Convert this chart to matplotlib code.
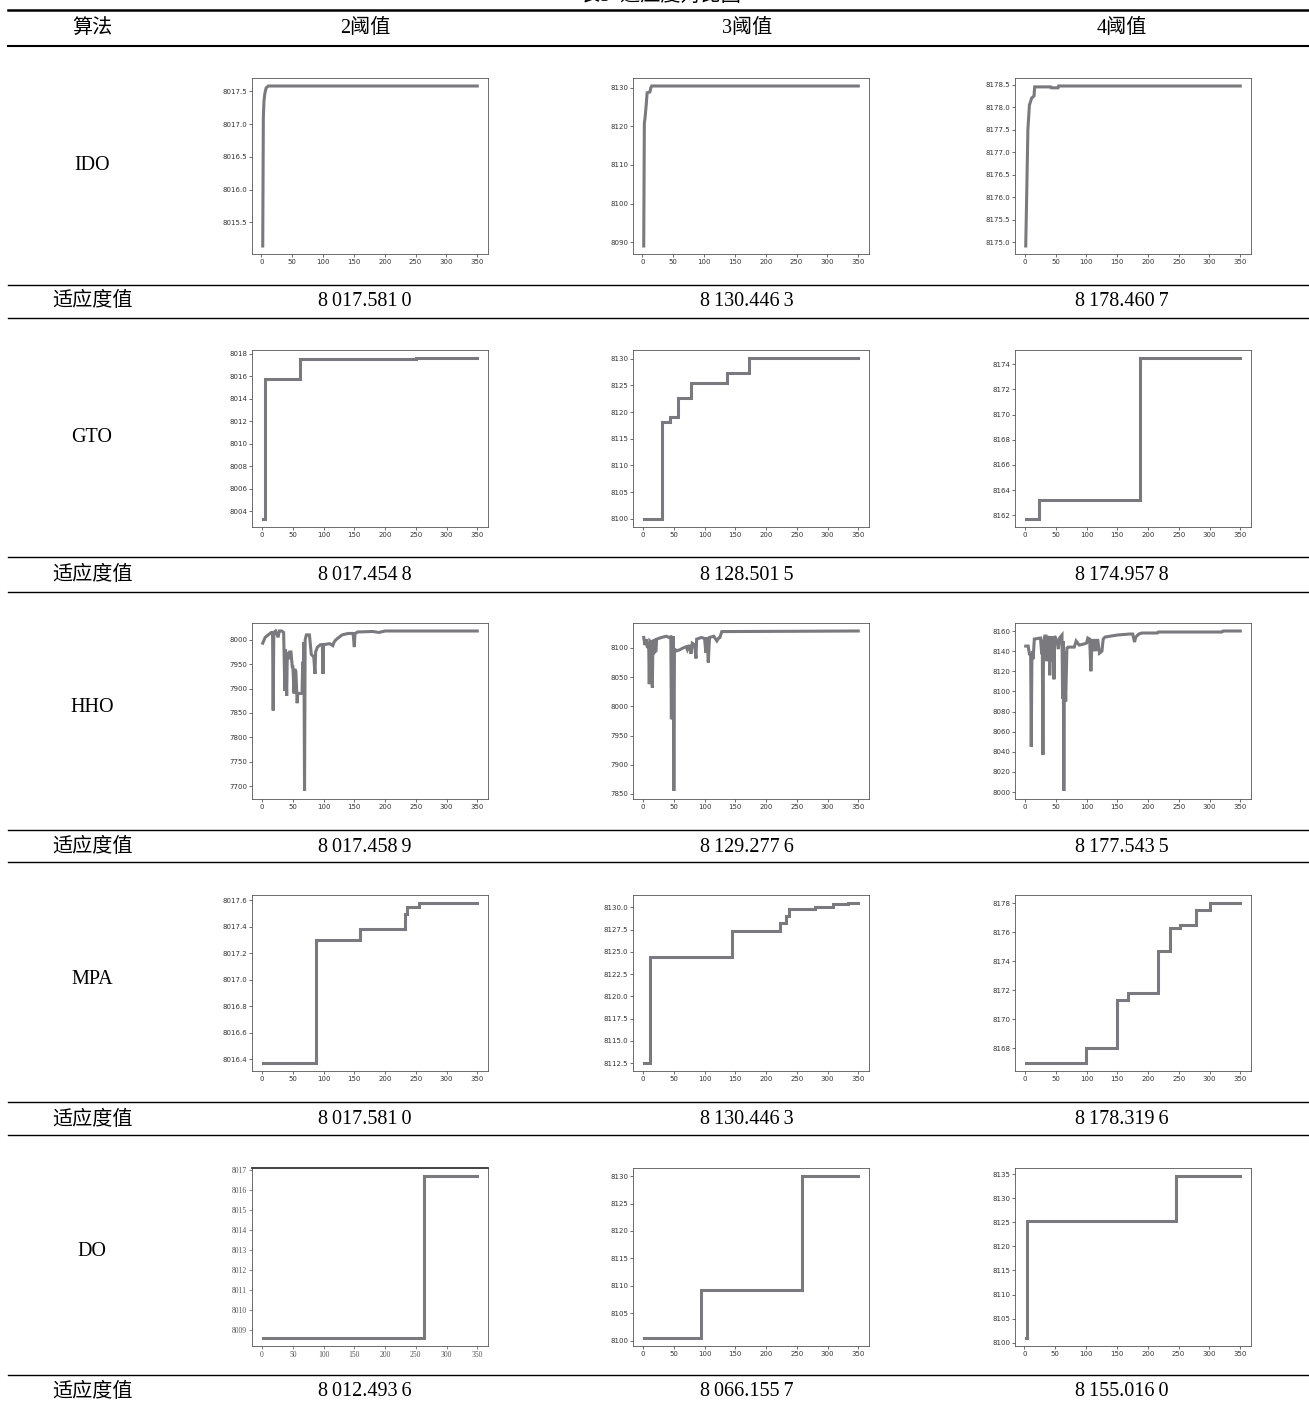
# 表5 适应度对比图 — 各算法在 2/3/4 阈值下的收敛曲线
import matplotlib
matplotlib.use("Agg")
import matplotlib.pyplot as plt
from matplotlib.lines import Line2D

W, H = 1309, 1405

algos = ["IDO", "GTO", "HHO", "MPA", "DO"]
heads = ["2阈值", "3阈值", "4阈值"]

# 适应度值（表格中的数字）
fit_vals = [
    [8017.5810, 8130.4463, 8178.4607],
    [8017.4548, 8128.5015, 8174.9578],
    [8017.4589, 8129.2776, 8177.5435],
    [8017.5810, 8130.4463, 8178.3196],
    [8012.4936, 8066.1557, 8155.0160],
]

# ---- IDO ----
ido2_x = [2, 3, 4, 5.5, 7.5, 11, 350]
ido2_y = [8015.14, 8017.10, 8017.35, 8017.47, 8017.55, 8017.58, 8017.58]
ido3_x = [2, 3, 4, 6, 7.5, 12, 13.5, 15, 350]
ido3_y = [8089.0, 8120.8, 8122.0, 8125.5, 8128.7, 8128.9, 8130.0, 8130.45, 8130.45]
ido4_x = [1.5, 3, 5, 7.5, 10, 11, 15, 16, 42, 43, 54, 55, 350]
ido4_y = [8174.92, 8176.0, 8177.5, 8178.05, 8178.15, 8178.2, 8178.25, 8178.45,
          8178.45, 8178.43, 8178.43, 8178.47, 8178.47]

# ---- GTO (阶梯) ----
gto2_x = [1, 4, 62, 250, 350]
gto2_y = [8003.3, 8015.75, 8017.5, 8017.6, 8017.6]
gto3_x = [1, 31, 44, 56, 78, 137, 172, 350]
gto3_y = [8100.0, 8118.2, 8119.0, 8122.6, 8125.4, 8127.3, 8130.1, 8130.1]
gto4_x = [1, 22, 187, 350]
gto4_y = [8161.7, 8163.2, 8174.5, 8174.5]

# ---- HHO ----
hho2_x = [1, 5, 10, 15, 17, 18, 19, 22, 26, 28, 32, 35, 37, 38, 40, 41, 43, 45,
          47, 49, 50, 52, 53, 55, 57, 58, 60, 65, 66, 67, 68, 69, 70, 72, 77, 80,
          84, 86, 87, 90, 95, 98, 99, 100, 110, 115, 117, 120, 125, 130, 140,
          148, 150, 151, 155, 180, 190, 200, 350]
hho2_y = [7993, 8005, 8010, 8015, 8015, 7855, 8015, 8018, 8005, 8018, 8018, 8015,
          7895, 7980, 7885, 7975, 7960, 7975, 7975, 7945, 7945, 7890, 7940, 7935,
          7870, 7890, 7890, 7890, 7955, 7890, 7995, 7690, 8000, 8010, 8010, 7970,
          7965, 7930, 7975, 7985, 7990, 7990, 7930, 7990, 7992, 7988, 7995, 8000,
          8005, 8010, 8013, 8013, 7985, 8012, 8016, 8017, 8015, 8018, 8018]
hho3_x = [1, 3, 5, 7, 9, 10, 11, 13, 15, 16, 18, 19, 21, 22, 30, 38, 42, 45, 46,
          47, 48, 49, 50, 51, 55, 60, 65, 70, 72, 75, 78, 80, 84, 86, 87, 95, 100,
          102, 104, 106, 108, 115, 120, 123, 125, 128, 350]
hho3_y = [8118, 8105, 8115, 8100, 8110, 8038, 8112, 8110, 8032, 8112, 8113, 8093,
          8095, 8115, 8118, 8120, 8118, 8119, 7978, 8119, 7978, 8120, 7855, 8098,
          8095, 8097, 8100, 8102, 8097, 8105, 8090, 8108, 8105, 8082, 8115, 8118,
          8116, 8092, 8118, 8075, 8118, 8120, 8112, 8117, 8118, 8128, 8129]
hho4_x = [1, 5, 7, 9, 10, 11, 12, 13, 15, 25, 27, 28, 29, 30, 32, 34, 35, 37, 39,
          40, 42, 44, 46, 47, 48, 52, 54, 56, 60, 61, 62, 63, 64, 66, 68, 70, 80,
          83, 88, 95, 100, 102, 105, 107, 109, 111, 113, 115, 118, 121, 125, 127,
          130, 140, 150, 170, 175, 178, 180, 185, 190, 215, 217, 320, 322, 350]
hho4_y = [8145, 8145, 8137, 8136, 8045, 8130, 8140, 8132, 8152, 8153, 8137, 8140,
          8037, 8150, 8155, 8155, 8130, 8150, 8155, 8116, 8155, 8130, 8155, 8112,
          8155, 8150, 8142, 8153, 8156, 8093, 8150, 8001, 8140, 8090, 8143, 8144,
          8144, 8150, 8146, 8147, 8148, 8153, 8152, 8120, 8152, 8140, 8152, 8140,
          8152, 8138, 8140, 8152, 8154, 8155, 8156, 8157, 8157, 8149, 8154, 8157,
          8158, 8158, 8159, 8159, 8160, 8160]

# ---- MPA (阶梯) ----
mpa2_x = [1, 88, 160, 233, 236, 256, 350]
mpa2_y = [8016.37, 8017.30, 8017.38, 8017.50, 8017.55, 8017.58, 8017.58]
mpa3_x = [1, 11, 144, 222, 233, 238, 279, 309, 333, 350]
mpa3_y = [8112.5, 8124.4, 8127.3, 8128.3, 8129.0, 8129.8, 8130.0, 8130.4, 8130.5, 8130.5]
mpa4_x = [1, 99, 150, 168, 216, 236, 252, 278, 301, 350]
mpa4_y = [8167.0, 8168.0, 8171.3, 8171.8, 8174.7, 8176.3, 8176.5, 8177.5, 8178.0, 8178.0]

# ---- DO (阶梯) ----
do2_x = [1, 263, 350]
do2_y = [8008.6, 8016.7, 8016.7]
do3_x = [1, 94, 259, 350]
do3_y = [8100.5, 8109.3, 8130.0, 8130.0]
do4_x = [2, 3.5, 245, 246, 350]
do4_y = [8101.0, 8125.2, 8128.5, 8134.6, 8134.6]

curves = [
    [(ido2_x, ido2_y, "default"), (ido3_x, ido3_y, "default"), (ido4_x, ido4_y, "default")],
    [(gto2_x, gto2_y, "steps-post"), (gto3_x, gto3_y, "steps-post"), (gto4_x, gto4_y, "steps-post")],
    [(hho2_x, hho2_y, "default"), (hho3_x, hho3_y, "default"), (hho4_x, hho4_y, "default")],
    [(mpa2_x, mpa2_y, "steps-post"), (mpa3_x, mpa3_y, "steps-post"), (mpa4_x, mpa4_y, "steps-post")],
    [(do2_x, do2_y, "steps-post"), (do3_x, do3_y, "steps-post"), (do4_x, do4_y, "steps-post")],
]

# 版面（像素）
col_left = [252, 633, 1015]
col_center = [365, 747, 1122]
ax_w = 236
row_top = [78, 350, 623, 895, 1168]
row_h = [176, 177, 176, 176, 178]
row_label_y = [165, 437, 708, 980, 1252]
fit_y = [301, 575, 847, 1120, 1392]

FONT = ["Liberation Serif", "Noto Sans CJK SC"]
LINE_C = "#7a7a7e"

fig = plt.figure(figsize=(W / 100, H / 100), dpi=100)


def put(x, y, s, size=14.5, **kw):
    fig.text(x / W, 1 - y / H, s, fontsize=size, family=FONT,
             ha="center", va="center", **kw)


def hline(y, lw):
    fig.add_artist(Line2D([8 / W, 1], [1 - y / H] * 2, color="black", lw=lw))


def fmt(v):
    # 期刊排版：千位和小数第三位后留细空格
    s = f"{v:.4f}"
    return s[0] + "\u2009" + s[1:8] + "\u2009" + s[8:]


# 表头（标题在原图中被页面上沿截断）
fig.text(660 / W, 1 - 6 / H, "表5  适应度对比图", fontsize=14.5, family=FONT,
         ha="center", va="bottom")
hline(10, 1.8)
put(92, 28, "算法")
for c, h in zip(col_center, heads):
    put(c, 28, h)
hline(46, 1.5)

sep_lines = [(285, 318), (557, 592), (830, 862), (1102, 1135), (1375, None)]

for r, name in enumerate(algos):
    put(92, row_label_y[r], name)
    for c in range(3):
        x, y, ds = curves[r][c]
        ax = fig.add_axes([col_left[c] / W, 1 - (row_top[r] + row_h[r]) / H,
                           ax_w / W, row_h[r] / H])
        ax.plot(x, y, color=LINE_C, lw=2.2, drawstyle=ds, solid_joinstyle="miter")
        ax.ticklabel_format(useOffset=False, axis="y")
        ax.tick_params(labelsize=5, length=2, width=0.5, pad=1.5, colors="#333333")
        for sp in ax.spines.values():
            sp.set_linewidth(0.6)
            sp.set_color("#555555")
        if r == 4 and c == 0:
            # 原图此子图分辨率很低，刻度为衬线体，上边框较粗
            ax.tick_params(labelfontfamily="Liberation Serif", labelsize=5.5, colors="#555555")
            ax.spines["top"].set_linewidth(1.3)
            ax.spines["top"].set_color("#333333")
    # 适应度值 行
    a, b = sep_lines[r]
    hline(a, 1.0)
    put(92, fit_y[r], "适应度值")
    for c in range(3):
        put(col_center[c], fit_y[r], fmt(fit_vals[r][c]))
    if b is not None:
        hline(b, 1.0)

fig.savefig("out.png", dpi=100)
